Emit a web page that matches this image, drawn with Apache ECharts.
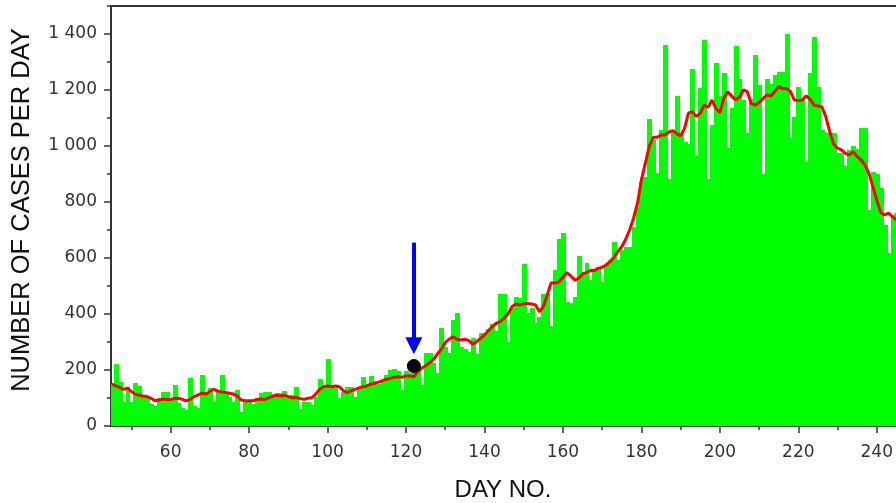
<!DOCTYPE html>
<html>
<head>
<meta charset="utf-8">
<script src="https://cdn.jsdelivr.net/npm/echarts@6/dist/echarts.min.js"></script>
<style>
html,body{margin:0;padding:0;background:#fff;}
#chart{width:896px;height:503px;}
</style>
</head>
<body>
<div id="chart"></div>
<script>
// ---- data ----
var firstDay = 45;
var dailyCases = [
  150, 222, 158, 85, 140, 85, 152, 143, 110, 105,
  80, 72, 100, 123, 120, 100, 148, 82, 65, 58,
  170, 72, 66, 182, 117, 135, 87, 129, 182, 117,
  105, 87, 129, 51, 93, 93, 80, 100, 117, 123,
  120, 110, 117, 117, 126, 107, 110, 138, 60, 87,
  85, 75, 105, 167, 140, 238, 140, 135, 99, 120,
  140, 140, 105, 135, 174, 150, 178, 160, 150, 165,
  182, 200, 202, 195, 130, 195, 190, 205, 215, 145,
  260, 262, 224, 190, 350, 283, 260, 379, 405, 281,
  274, 265, 313, 257, 333, 333, 345, 364, 340, 471,
  471, 301, 420, 462, 456, 579, 402, 420, 369, 390,
  471, 471, 357, 557, 667, 690, 444, 438, 460, 607,
  551, 581, 521, 557, 569, 515, 575, 593, 658, 593,
  629, 640, 640, 712, 783, 873, 890, 1095, 1021, 905,
  1057, 1361, 881, 1057, 1179, 1045, 1015, 1007, 1274, 964,
  1208, 1379, 881, 1075, 1295, 1179, 1260, 992, 1135, 1357,
  1238, 1164, 1048, 1167, 1325, 1218, 900, 1238, 1220, 1254,
  1265, 1265, 1400, 1027, 1105, 1212, 1164, 944, 1260, 1390,
  1212, 1057, 1045, 1045, 1045, 974, 974, 929, 985, 1000,
  990, 1063, 1063, 771, 908, 900, 849, 718, 617, 754, 760
];
var avgCases = [
  150, 143, 138, 131, 135, 123, 113, 110, 107, 105,
  99, 90, 93, 96, 95, 95, 98, 99, 95, 90,
  95, 105, 111, 117, 114, 123, 131, 125, 121, 120,
  117, 114, 107, 93, 90, 90, 90, 95, 96, 95,
  100, 107, 110, 107, 110, 105, 101, 102, 98, 95,
  99, 101, 114, 131, 140, 143, 140, 143, 140, 126,
  119, 126, 131, 136, 140, 143, 150, 152, 157, 162,
  167, 170, 174, 176, 174, 179, 179, 176, 194, 206,
  215, 225, 238, 257, 274, 298, 310, 319, 310, 307,
  310, 305, 292, 301, 313, 325, 340, 355, 367, 373,
  385, 400, 426, 436, 432, 436, 438, 436, 432, 408,
  426, 468, 512, 510, 515, 531, 548, 536, 521, 527,
  543, 548, 555, 555, 563, 567, 575, 587, 602, 623,
  640, 667, 700, 742, 795, 879, 938, 998, 1031, 1031,
  1039, 1039, 1050, 1055, 1045, 1036, 1063, 1117, 1123, 1105,
  1117, 1146, 1138, 1164, 1134, 1119, 1170, 1194, 1179, 1164,
  1174, 1200, 1194, 1152, 1146, 1155, 1170, 1182, 1179, 1194,
  1212, 1205, 1205, 1194, 1164, 1162, 1164, 1179, 1167, 1146,
  1143, 1140, 1105, 1051, 1007, 992, 986, 974, 968, 980,
  962, 950, 932, 902, 855, 807, 762, 754, 760, 748, 736
];
var xTickLabels = [60, 80, 100, 120, 140, 160, 180, 200, 220, 240];
var xMinorTicks = [50, 70, 90, 110, 130, 150, 170, 190, 210, 230];
var yTickLabels = [0, 200, 400, 600, 800, 1000, 1200, 1400];
var markerPoint = [122, 214];
var arrowDay = 122;
var arrowFrom = 655;
var arrowTo = 287;

// ---- build ----
var barData = dailyCases.map(function (v, i) { return [firstDay + i, v]; });
var lineData = avgCases.map(function (v, i) { return [firstDay + i, v]; });

function fmtThousands(v) {
  if (v >= 1000) {
    var r = String(v % 1000);
    while (r.length < 3) r = '0' + r;
    return Math.floor(v / 1000) + ' ' + r;
  }
  return String(v);
}

function renderDayBar(params, api) {
  var day = api.value(0);
  var val = api.value(1);
  var pTop = api.coord([day - 0.5, val]);
  var pBase = api.coord([day + 0.5, 0]);
  var x0 = Math.round(pTop[0]);
  var x1 = Math.round(pBase[0]) + 1;
  var y0 = Math.round(pTop[1]);
  return {
    type: 'rect',
    shape: { x: x0, y: y0, width: x1 - x0, height: pBase[1] - y0 },
    style: { fill: '#00ff00' }
  };
}

var axisColor = '#333';
var labelFont = { fontFamily: 'DejaVu Sans', fontSize: 17, color: '#333' };

var chart = echarts.init(document.getElementById('chart'), null, { renderer: 'canvas' });
chart.setOption({
  animation: false,
  backgroundColor: '#fff',
  grid: { left: 111, top: 6, right: 0, bottom: 77, containLabel: false },
  xAxis: [
    {
      type: 'value', min: 44.8, max: 244.8, position: 'bottom',
      axisLine: { show: true, onZero: false, lineStyle: { color: axisColor, width: 2 } },
      axisTick: { show: true, length: 7, customValues: xTickLabels, lineStyle: { color: axisColor, width: 1.5 } },
      axisLabel: Object.assign({ show: true, margin: 18, customValues: xTickLabels }, labelFont),
      splitLine: { show: false }
    },
    {
      type: 'value', min: 44.8, max: 244.8, position: 'bottom',
      axisLine: { show: false },
      axisTick: { show: true, length: 4, customValues: xMinorTicks, lineStyle: { color: axisColor, width: 1.5 } },
      axisLabel: { show: false },
      splitLine: { show: false }
    },
    {
      type: 'value', min: 44.8, max: 244.8, position: 'top',
      axisLine: { show: true, onZero: false, lineStyle: { color: axisColor, width: 2 } },
      axisTick: { show: false }, axisLabel: { show: false }, splitLine: { show: false }
    }
  ],
  yAxis: [
    {
      type: 'value', min: 0, max: 1500, position: 'left',
      axisLine: { show: true, onZero: false, lineStyle: { color: axisColor, width: 2 } },
      axisTick: { show: true, length: 7, customValues: yTickLabels, lineStyle: { color: axisColor, width: 1.5 } },
      axisLabel: Object.assign({ show: true, margin: 14, customValues: yTickLabels, formatter: fmtThousands }, labelFont),
      splitLine: { show: false }
    },
    {
      type: 'value', min: 0, max: 1500, interval: 100, position: 'left',
      axisLine: { show: false },
      axisTick: { show: true, length: 4, lineStyle: { color: axisColor, width: 1.5 } },
      axisLabel: { show: false },
      splitLine: { show: false }
    }
  ],
  graphic: [
    {
      type: 'text', x: 22, y: 210, rotation: Math.PI / 2,
      style: { text: 'NUMBER OF CASES PER DAY', fontFamily: 'Liberation Sans', fontSize: 25.5,
        fill: '#111', textAlign: 'center', textVerticalAlign: 'middle' }
    },
    {
      type: 'text', x: 503, y: 490,
      style: { text: 'DAY NO.', fontFamily: 'Liberation Sans', fontSize: 24,
        fill: '#111', textAlign: 'center', textVerticalAlign: 'middle' }
    }
  ],
  series: [
    {
      type: 'custom', name: 'Daily cases', data: barData,
      encode: { x: 0, y: 1 }, renderItem: renderDayBar, clip: true, z: 1
    },
    {
      type: 'line', name: 'Moving average', data: lineData, showSymbol: false,
      lineStyle: { color: '#ff0000', width: 3 }, z: 3, clip: true
    },
    {
      type: 'lines', coordinateSystem: 'cartesian2d', z: 4,
      symbol: ['none', 'triangle'], symbolSize: [13, 17],
      lineStyle: { color: '#0000ff', width: 4, opacity: 1 },
      itemStyle: { color: '#0000ff' },
      data: [{ coords: [[arrowDay, arrowFrom], [arrowDay, arrowTo]] }]
    },
    {
      type: 'scatter', data: [markerPoint], symbol: 'circle', symbolSize: 14,
      itemStyle: { color: '#000', opacity: 1 }, z: 5
    }
  ]
});
</script>
</body>
</html>
